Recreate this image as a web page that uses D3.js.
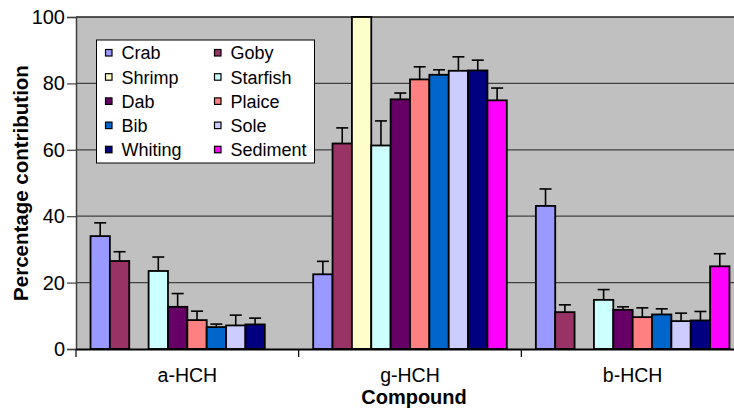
<meta charset="utf-8">
<style>
    body { margin: 0; background: #ffffff; }
    text { font-family: "Liberation Sans", Arial, sans-serif; fill: #000; }
</style>
<body>
<script src="https://d3js.org/d3.v7.min.js"></script>
<script>
    const compounds = ["a-HCH", "g-HCH", "b-HCH"];
    const species = ["Crab", "Goby", "Shrimp", "Starfish", "Dab", "Plaice", "Bib", "Sole", "Whiting", "Sediment"];
    const colors = ["#9999ff", "#993366", "#ffffcc", "#ccffff", "#660066", "#ff8080", "#0066cc", "#ccccff", "#000080", "#ff00ff"];

    // percentage contribution per compound, in species order (null = no bar)
    const aHCH = [34.0, 26.5, null, 23.5, 12.7, 8.7, 6.6, 7.1, 7.4, null];
    const gHCH = [22.5, 61.9, 100, 61.3, 75.2, 81.2, 82.6, 83.8, 83.9, 74.9];
    const bHCH = [43.1, 11.1, null, 14.8, 11.8, 9.6, 10.4, 8.4, 8.6, 24.9];
    // upper error bar sizes
    const aErr = [4.0, 2.8, null, 4.2, 4.0, 2.7, 0.9, 3.1, 1.9, null];
    const gErr = [3.9, 4.7, 0, 7.4, 1.9, 3.8, 1.5, 4.2, 3.1, 3.7];
    const bErr = [5.1, 2.2, null, 3.1, 0.9, 2.8, 1.7, 2.4, 2.7, 3.8];
    const yTicks = [0, 20, 40, 60, 80, 100];

    const values = [aHCH, gHCH, bHCH];
    const errors = [aErr, gErr, bErr];

    const width = 734, height = 417;
    const mLeft = 76, mRight = 744, mTop = 17, mBottom = 349;

    const svg = d3.select("body").append("svg")
        .attr("width", width)
        .attr("height", height);

    const x0 = d3.scaleBand().domain(compounds).range([mLeft, mRight]);
    const x1 = d3.scaleBand().domain(species).range([0, x0.bandwidth()]).paddingInner(0).paddingOuter(0.75);
    const y = d3.scaleLinear().domain([0, 100]).range([mBottom, mTop]);

    // plot area
    svg.append("rect")
        .attr("x", mLeft).attr("y", mTop)
        .attr("width", mRight - mLeft).attr("height", mBottom - mTop)
        .style("fill", "#c0c0c0");

    // gridlines
    svg.selectAll(".grid").data(yTicks.filter(d => d > 0 && d < 100)).enter()
        .append("line")
        .attr("x1", mLeft).attr("x2", mRight)
        .attr("y1", d => y(d)).attr("y2", d => y(d))
        .style("stroke", "#404040").style("stroke-width", 1.2);
    svg.append("line")
        .attr("x1", mLeft).attr("x2", mRight)
        .attr("y1", y(100)).attr("y2", y(100))
        .style("stroke", "#202020").style("stroke-width", 1.5);

    // bars
    const rows = [];
    compounds.forEach((c, ci) => {
        species.forEach((s, si) => {
            if (values[ci][si] != null) rows.push({c: c, s: s, i: si, v: values[ci][si], e: errors[ci][si]});
        });
    });

    const g = svg.append("g");
    g.selectAll("rect").data(rows).enter().append("rect")
        .attr("x", d => x0(d.c) + x1(d.s))
        .attr("y", d => y(d.v))
        .attr("width", x1.bandwidth())
        .attr("height", d => y(0) - y(d.v))
        .style("fill", d => colors[d.i])
        .style("stroke", "#000")
        .style("stroke-width", 1.8);

    // error bars
    const eb = g.selectAll(".err").data(rows.filter(d => d.e > 0)).enter().append("g");
    eb.append("line")
        .attr("x1", d => x0(d.c) + x1(d.s) + x1.bandwidth() / 2)
        .attr("x2", d => x0(d.c) + x1(d.s) + x1.bandwidth() / 2)
        .attr("y1", d => y(d.v))
        .attr("y2", d => y(d.v + d.e))
        .style("stroke", "#000").style("stroke-width", 1.6);
    eb.append("line")
        .attr("x1", d => x0(d.c) + x1(d.s) + x1.bandwidth() / 2 - 6)
        .attr("x2", d => x0(d.c) + x1(d.s) + x1.bandwidth() / 2 + 6)
        .attr("y1", d => y(d.v + d.e))
        .attr("y2", d => y(d.v + d.e))
        .style("stroke", "#000").style("stroke-width", 1.6);

    // y axis
    const yAxis = svg.append("g")
        .attr("transform", "translate(" + mLeft + ",0)")
        .call(d3.axisLeft(y).tickValues(yTicks).tickSize(9).tickPadding(2));
    yAxis.select(".domain").style("stroke", "#404040").style("stroke-width", 1.5);
    yAxis.selectAll(".tick line").style("stroke", "#404040").style("stroke-width", 1.2);
    yAxis.selectAll("text").style("font-size", "20px")
        .style("font-family", "'Liberation Sans', Arial, sans-serif").style("fill", "#000");

    // x axis
    const xAxis = svg.append("g")
        .attr("transform", "translate(0," + mBottom + ")")
        .call(d3.axisBottom(x0).tickSize(0).tickPadding(19.5));
    xAxis.select(".domain").style("stroke", "#000").style("stroke-width", 1.8);
    xAxis.selectAll("text").style("font-size", "19.5px")
        .style("font-family", "'Liberation Sans', Arial, sans-serif").style("fill", "#000");
    svg.selectAll(".cattick").data(compounds).enter().append("line")
        .attr("x1", d => x0(d)).attr("x2", d => x0(d))
        .attr("y1", mBottom).attr("y2", mBottom + 8)
        .style("stroke", "#000").style("stroke-width", 1.2);

    // axis titles
    svg.append("text")
        .attr("x", 414).attr("y", 404)
        .attr("text-anchor", "middle")
        .style("font-size", "20px").style("font-weight", "bold")
        .text("Compound");
    svg.append("text")
        .attr("transform", "translate(28," + ((mTop + mBottom) / 2) + ") rotate(-90)")
        .attr("text-anchor", "middle")
        .style("font-size", "20.5px").style("font-weight", "bold")
        .text("Percentage contribution");

    // legend
    const lg = svg.append("g");
    lg.append("rect")
        .attr("x", 96.5).attr("y", 40)
        .attr("width", 218).attr("height", 123)
        .style("fill", "#fff").style("stroke", "#000").style("stroke-width", 1);
    const item = lg.selectAll(".item").data(species).enter().append("g")
        .attr("transform", (d, i) => "translate(" + (i % 2 === 0 ? 105.5 : 214.5) + "," + (53 + Math.floor(i / 2) * 24.2) + ")");
    item.append("rect")
        .attr("x", 0).attr("y", -3.5)
        .attr("width", 6.5).attr("height", 6.5)
        .style("fill", (d, i) => colors[i])
        .style("stroke", "#000").style("stroke-width", 1.2);
    item.append("text")
        .attr("x", 16).attr("y", 0).attr("dy", "0.36em")
        .style("font-size", "18px")
        .text(d => d);
</script>
</body>
